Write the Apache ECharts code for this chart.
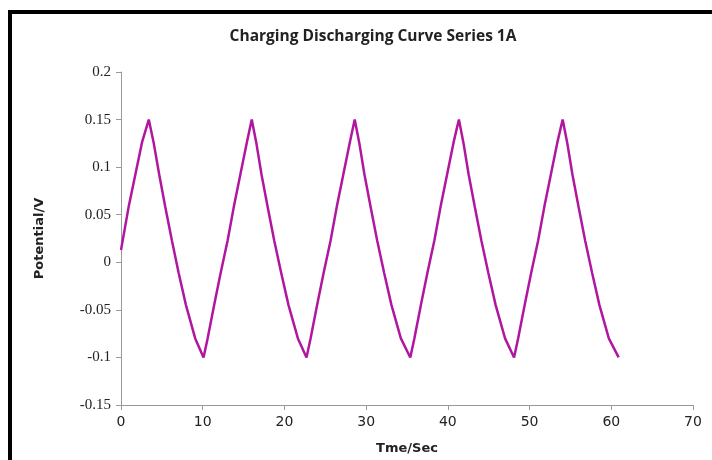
<!DOCTYPE html>
<html>
<head>
<meta charset="utf-8">
<script src="https://cdn.jsdelivr.net/npm/echarts@6/dist/echarts.min.js"></script>
<style>
    html, body { margin: 0; padding: 0; background: #fff; }
    #main { width: 712px; height: 460px; }
</style>
</head>
<body>
<div id="main"></div>
<script>
// 时间 (s)
var timeSec = [
    0, 0.93, 1.75, 2.57, 3.4,
    3.99, 4.68, 5.42, 6.23, 7.05, 7.95, 9.08, 10.1,
    10.6, 11.4, 12.2, 13.05, 13.8, 14.6, 15.4, 16.0,
    16.55, 17.2, 17.95, 18.75, 19.6, 20.5, 21.65, 22.7,
    23.2, 24.0, 24.8, 25.65, 26.4, 27.2, 28.0, 28.6,
    29.15, 29.8, 30.55, 31.35, 32.2, 33.1, 34.25, 35.4,
    35.9, 36.7, 37.5, 38.35, 39.1, 39.9, 40.7, 41.35,
    41.9, 42.55, 43.3, 44.1, 44.95, 45.85, 47.0, 48.1,
    48.6, 49.4, 50.2, 51.05, 51.8, 52.6, 53.4, 54.05,
    54.6, 55.25, 56.0, 56.8, 57.65, 58.55, 59.7, 60.9
];
// 电位 (V)
var potential = [
    0.013, 0.058, 0.092, 0.126, 0.15,
    0.126, 0.092, 0.058, 0.023, -0.011, -0.045, -0.08, -0.1,
    -0.08, -0.045, -0.011, 0.023, 0.058, 0.092, 0.126, 0.15,
    0.126, 0.092, 0.058, 0.023, -0.011, -0.045, -0.08, -0.1,
    -0.08, -0.045, -0.011, 0.023, 0.058, 0.092, 0.126, 0.15,
    0.126, 0.092, 0.058, 0.023, -0.011, -0.045, -0.08, -0.1,
    -0.08, -0.045, -0.011, 0.023, 0.058, 0.092, 0.126, 0.15,
    0.126, 0.092, 0.058, 0.023, -0.011, -0.045, -0.08, -0.1,
    -0.08, -0.045, -0.011, 0.023, 0.058, 0.092, 0.126, 0.15,
    0.126, 0.092, 0.058, 0.023, -0.011, -0.045, -0.08, -0.1
];
var xTicks = { min: 0, max: 70, interval: 10 };
var yTicks = { min: -0.15, max: 0.2, interval: 0.05 };

var points = [];
for (var i = 0; i < timeSec.length; i++) {
    points.push([timeSec[i], potential[i]]);
}

var chart = echarts.init(document.getElementById('main'));
var option = {
    animation: false,
    backgroundColor: '#fff',
    title: {
        text: 'Charging Discharging Curve Series 1A',
        left: 368,
        textAlign: 'center',
        top: 24,
        textStyle: { fontFamily: 'Open Sans', fontWeight: 'bold', fontSize: 15.5, color: '#222' }
    },
    grid: { left: 121, right: 19, top: 72, bottom: 45 },
    xAxis: {
        type: 'value',
        min: xTicks.min, max: xTicks.max, interval: xTicks.interval,
        name: 'Tme/Sec',
        nameLocation: 'middle',
        nameGap: 37,
        nameTextStyle: { fontFamily: 'DejaVu Sans', fontWeight: 'bold', fontSize: 13, color: '#222' },
        axisLine: { onZero: false, lineStyle: { color: '#999', width: 1 } },
        axisTick: { length: 5, lineStyle: { color: '#999' } },
        axisLabel: { fontFamily: 'DejaVu Sans', fontSize: 14, color: '#222', margin: 10 },
        splitLine: { show: false }
    },
    yAxis: {
        type: 'value',
        min: yTicks.min, max: yTicks.max, interval: yTicks.interval,
        name: 'Potential/V',
        nameLocation: 'middle',
        nameGap: 75,
        nameRotate: 90,
        nameTextStyle: { fontFamily: 'DejaVu Sans', fontWeight: 'bold', fontSize: 13, color: '#222' },
        axisLine: { show: true, lineStyle: { color: '#999', width: 1 } },
        axisTick: { show: true, length: 5, lineStyle: { color: '#999' } },
        axisLabel: {
            fontFamily: 'Liberation Serif', fontSize: 15, color: '#222', margin: 10,
            formatter: function (v) { return String(+v.toFixed(2)); }
        },
        splitLine: { show: false }
    },
    graphic: [{
        type: 'rect',
        shape: { x: 10, y: 12, width: 760, height: 520 },
        style: { fill: 'none', stroke: '#000', lineWidth: 4 }
    }],
    series: [{
        type: 'line',
        data: points,
        showSymbol: false,
        lineStyle: { color: '#B0169E', width: 2.5 },
        itemStyle: { color: '#B0169E' }
    }]
};
chart.setOption(option);
</script>
</body>
</html>
